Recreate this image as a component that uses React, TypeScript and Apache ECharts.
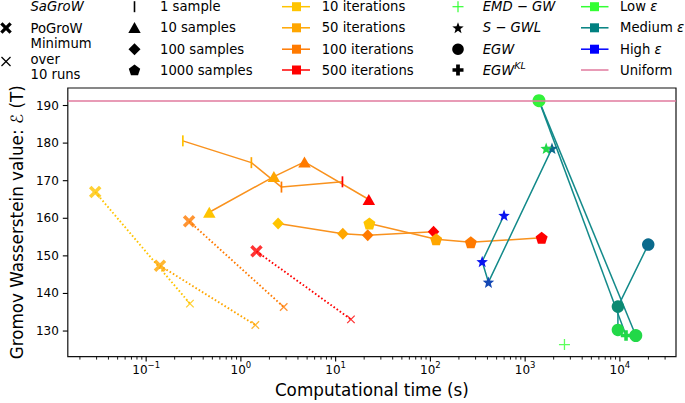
import React, { useEffect, useRef } from 'react';
import * as echarts from 'echarts';

// ---------- data ----------
const iterationLabels = ['10 iterations', '50 iterations', '100 iterations', '500 iterations'];
const sampleLabels = ['1 sample', '10 samples', '100 samples', '1000 samples'];

const sagrow1Time = [0.244, 1.29, 2.68, 11.8];
const sagrow1Value = [180.6, 174.8, 168.3, 169.7];
const sagrow10Time = [0.464, 2.23, 4.69, 22.4];
const sagrow10Value = [161.6, 171.1, 175.0, 165.0];
const sagrow100Time = [2.47, 11.9, 21.8, 108];
const sagrow100Value = [158.6, 155.9, 155.5, 156.4];
const sagrow1000Time = [22.7, 115, 267, 1493];
const sagrow1000Value = [158.6, 154.4, 153.6, 154.8];

const pogrowTime = [0.029, 0.14, 0.284, 1.46];
const pogrowValue = [167.0, 147.4, 159.2, 151.2];
const minRunsTime = [0.29, 1.42, 2.83, 14.5];
const minRunsValue = [137.3, 131.6, 136.4, 133.1];

const emdGwTime = [2600];
const emdGwValue = [126.4];

const sgwlTime = [599, 352, 410, 1920, 1667];
const sgwlValue = [160.8, 148.5, 143.0, 178.6, 178.6];
const sgwlEps = ['high', 'high', 'highMedium', 'mediumHigh', 'low'];

const egwRunATime = [1400, 14720];
const egwRunAValue = [191.3, 128.8];
const egwRunAEps = ['lowTop', 'low'];
const egwRunBTime = [19920, 9530, 9530];
const egwRunBValue = [153.0, 136.5, 130.3];
const egwRunBEps = ['mediumHigh', 'medium', 'low'];
const egwKlTime = [1400, 11610];
const egwKlValue = [191.3, 128.8];
const egwKlEps = ['lowTop', 'low'];

const uniformValue = 191.3;

const xMajorTicks = [0.1, 1, 10, 100, 1000, 10000];
const yTicks = [130, 140, 150, 160, 170, 180, 190];

// ---------- styles ----------
const FONT = 'DejaVu Sans';
const iterColors = ['#ffc400', '#ffa600', '#ff7a00', '#ff0000'];
const epsColors: Record<string, string> = {
  lowTop: '#33f23a',
  low: '#22d848',
  medium: '#0b8a72',
  mediumHigh: '#0b6a8c',
  highMedium: '#1448b4',
  high: '#0a14f0',
};
const sagrowLine = '#f9921e';
const entropicLine = '#138a8a';
const uniformColor = '#e07a9e';

const xMin = 0.0149;
const xMax = 39100;
const yMin = 123.2;
const yMax = 194.66;

// ---------- symbol shapes ----------
const toPath = (pts: number[][]) =>
  'path://M' + pts.map((p) => p[0].toFixed(3) + ',' + p[1].toFixed(3)).join('L') + 'Z';
const starPts: number[][] = [];
for (let i = 0; i < 10; i++) {
  const r = i % 2 === 0 ? 1 : 0.42;
  const a = -Math.PI / 2 + (i * Math.PI) / 5;
  starPts.push([r * Math.cos(a), r * Math.sin(a)]);
}
const pentPts: number[][] = [];
for (let i = 0; i < 5; i++) {
  const a = -Math.PI / 2 + (i * 2 * Math.PI) / 5;
  pentPts.push([Math.cos(a), Math.sin(a)]);
}
const boldXPts = [[0, 2], [2, 0], [5, 3], [8, 0], [10, 2], [7, 5], [10, 8], [8, 10], [5, 7], [2, 10], [0, 8], [3, 5]].map(
  (p) => [(p[0] - 5) / 5, (p[1] - 5) / 5]
);
const w = 0.34;
const boldPlusPts = [[-w, -1], [w, -1], [w, -w], [1, -w], [1, w], [w, w], [w, 1], [-w, 1], [-w, w], [-1, w], [-1, -w], [-w, -w]];
const triPts = [[0, -1], [1, 0.75], [-1, 0.75]];
const diaPts = [[0, -1], [1, 0], [0, 1], [-1, 0]];

const SYM_STAR = toPath(starPts);
const SYM_PENT = toPath(pentPts);
const SYM_BOLDX = toPath(boldXPts);
const SYM_BOLDPLUS = toPath(boldPlusPts);
const SYM_THINX = 'path://M0,0L10,10M10,0L0,10';
const SYM_THINPLUS = 'path://M5,0L5,10M0,5L10,5';

const scalePts = (pts: number[][], cx: number, cy: number, r: number) => pts.map((p) => [cx + p[0] * r, cy + p[1] * r]);

// ---------- legend graphics ----------
const rows = [6.7, 27.8, 49.2, 70];
const txt = (x: number, y: number, text: string, extra: any = {}) => ({
  type: 'text',
  x,
  y,
  style: {
    text,
    fill: '#000',
    fontFamily: FONT,
    fontSize: 13.2,
    align: 'left',
    verticalAlign: 'middle',
    ...extra,
  },
});

function buildLegend() {
  const g: any[] = [];
  // column 1
  g.push(txt(30.5, 6, 'SaGroW', { fontStyle: 'italic' }));
  g.push({ type: 'polygon', shape: { points: scalePts(boldXPts, 6, 28, 5.8) }, style: { fill: '#000' } });
  g.push(txt(30.5, 28, 'PoGroW'));
  g.push({ type: 'line', shape: { x1: 1.5, y1: 57, x2: 10.5, y2: 66 }, style: { stroke: '#000', lineWidth: 1.2 } });
  g.push({ type: 'line', shape: { x1: 10.5, y1: 57, x2: 1.5, y2: 66 }, style: { stroke: '#000', lineWidth: 1.2 } });
  g.push(txt(30.5, 59.3, 'Minimum\nover\n10 runs', { lineHeight: 15.4 }));
  // column 2
  const m2 = 134.5;
  g.push({ type: 'line', shape: { x1: m2, y1: rows[0] - 5.5, x2: m2, y2: rows[0] + 5.5 }, style: { stroke: '#000', lineWidth: 1.6 } });
  g.push({ type: 'polygon', shape: { points: scalePts(triPts, m2, rows[1] + 0.5, 6.2) }, style: { fill: '#000' } });
  g.push({ type: 'polygon', shape: { points: scalePts(diaPts, m2, rows[2], 6) }, style: { fill: '#000' } });
  g.push({ type: 'polygon', shape: { points: scalePts(pentPts, m2, rows[3] + 0.5, 6) }, style: { fill: '#000' } });
  sampleLabels.forEach((s, i) => g.push(txt(160, rows[i], s)));
  // column 3
  iterationLabels.forEach((s, i) => {
    g.push({ type: 'line', shape: { x1: 282, y1: rows[i], x2: 310, y2: rows[i] }, style: { stroke: iterColors[i], lineWidth: 1.5 } });
    g.push({ type: 'rect', shape: { x: 292, y: rows[i] - 4.5, width: 9, height: 9 }, style: { fill: iterColors[i] } });
    g.push(txt(321.7, rows[i], s));
  });
  // column 4
  const m4 = 458;
  g.push({ type: 'line', shape: { x1: m4 - 5.5, y1: rows[0], x2: m4 + 5.5, y2: rows[0] }, style: { stroke: '#33ff33', lineWidth: 1.2 } });
  g.push({ type: 'line', shape: { x1: m4, y1: rows[0] - 5.5, x2: m4, y2: rows[0] + 5.5 }, style: { stroke: '#33ff33', lineWidth: 1.2 } });
  g.push({ type: 'polygon', shape: { points: scalePts(starPts, m4, rows[1] + 0.5, 6) }, style: { fill: '#000' } });
  g.push({ type: 'circle', shape: { cx: m4, cy: rows[2], r: 5.8 }, style: { fill: '#000' } });
  g.push({ type: 'polygon', shape: { points: scalePts(boldPlusPts, m4, rows[3], 5.5) }, style: { fill: '#000' } });
  g.push(txt(482.7, rows[0], 'EMD \u2212 GW', { fontStyle: 'italic' }));
  g.push(txt(482.7, rows[1], 'S \u2212 GWL', { fontStyle: 'italic' }));
  g.push(txt(482.7, rows[2], 'EGW', { fontStyle: 'italic' }));
  g.push({
    type: 'text',
    x: 482.7,
    y: rows[3],
    style: {
      text: '{a|EGW}{b|KL}',
      align: 'left',
      verticalAlign: 'middle',
      rich: {
        a: { fontFamily: FONT, fontSize: 13.2, fontStyle: 'italic', fill: '#000', lineHeight: 20 },
        b: { fontFamily: FONT, fontSize: 9.5, fontStyle: 'italic', fill: '#000', verticalAlign: 'top' },
      },
    },
  });
  // column 5
  const epsLegend = [
    { label: 'Low', color: '#33ff33' },
    { label: 'Medium', color: '#008080' },
    { label: 'High', color: '#0000ff' },
  ];
  epsLegend.forEach((e, i) => {
    g.push({ type: 'line', shape: { x1: 581, y1: rows[i], x2: 608.5, y2: rows[i] }, style: { stroke: e.color, lineWidth: 1.5 } });
    g.push({ type: 'rect', shape: { x: 590, y: rows[i] - 4.5, width: 9, height: 9 }, style: { fill: e.color } });
    g.push({
      type: 'text',
      x: 620,
      y: rows[i],
      style: {
        text: '{a|' + e.label + ' }{b|\u03b5}',
        align: 'left',
        verticalAlign: 'middle',
        rich: {
          a: { fontFamily: FONT, fontSize: 13.2, fill: '#000' },
          b: { fontFamily: FONT, fontSize: 13.2, fontStyle: 'italic', fill: '#000' },
        },
      },
    });
  });
  g.push({ type: 'line', shape: { x1: 581, y1: rows[3], x2: 608.5, y2: rows[3] }, style: { stroke: uniformColor, lineWidth: 1.5 } });
  g.push(txt(620, rows[3], 'Uniform'));
  return g;
}

// ---------- series builders ----------
const sagrowSeries = (name: string, times: number[], values: number[], symbol: string, size: any, extra: any = {}) => ({
  name,
  type: 'line',
  data: times.map((t, i) => ({ value: [t, values[i]], itemStyle: { color: iterColors[i] } })),
  symbol,
  symbolSize: size,
  showSymbol: true,
  lineStyle: { color: sagrowLine, width: 1.5 },
  z: 3,
  ...extra,
});

const entropicSeries = (name: string, times: number[], values: number[], eps: string[], symbol: string, size: number) => ({
  name,
  type: 'line',
  data: times.map((t, i) => ({ value: [t, values[i]], itemStyle: { color: epsColors[eps[i]] } })),
  symbol,
  symbolSize: size,
  lineStyle: { color: entropicLine, width: 1.5 },
  z: 4,
});

export default function App() {
  const ref = useRef<HTMLDivElement>(null);
  useEffect(() => {
    document.body.style.margin = '0';
    if (!ref.current) return;
    const chart = echarts.init(ref.current, undefined, { renderer: 'svg' });

    const xTickData: number[][] = xMajorTicks.map((v) => [v, yMin, 5, 1.1]);
    for (let e = -2; e <= 4; e++) {
      for (let k = 2; k <= 9; k++) {
        const v = k * Math.pow(10, e);
        if (v > xMin && v < xMax) xTickData.push([v, yMin, 3, 0.9]);
      }
    }
    const yTickData = yTicks.map((v) => [xMin, v, 5, 1.1]);

    const series: any[] = [
      // PoGroW -> minimum over 10 runs (dotted)
      ...pogrowTime.map((t, i) => ({
        type: 'line',
        data: [
          [t, pogrowValue[i]],
          [minRunsTime[i], minRunsValue[i]],
        ],
        showSymbol: false,
        symbol: 'none',
        lineStyle: { color: iterColors[i], width: 1.9, type: [1.6, 2.2] },
        z: 2,
      })),
      sagrowSeries('1 sample', sagrow1Time, sagrow1Value, 'rect', [1.7, 11], {
        markLine: {
          silent: true,
          symbol: 'none',
          label: { show: false },
          lineStyle: { color: uniformColor, width: 1.5, type: 'solid' },
          data: [{ yAxis: uniformValue }],
        },
      }),
      sagrowSeries('10 samples', sagrow10Time, sagrow10Value, 'triangle', [12.5, 11]),
      sagrowSeries('100 samples', sagrow100Time, sagrow100Value, 'diamond', [11.5, 12]),
      sagrowSeries('1000 samples', sagrow1000Time, sagrow1000Value, SYM_PENT, 12),
      {
        name: 'PoGroW',
        type: 'scatter',
        data: pogrowTime.map((t, i) => ({ value: [t, pogrowValue[i]], itemStyle: { color: iterColors[i] } })),
        symbol: SYM_BOLDX,
        symbolSize: 12.5,
        z: 5,
      },
      {
        name: 'Minimum over 10 runs',
        type: 'scatter',
        data: minRunsTime.map((t, i) => ({
          value: [t, minRunsValue[i]],
          itemStyle: { color: 'transparent', borderColor: iterColors[i], borderWidth: 1.3 },
        })),
        symbol: SYM_THINX,
        symbolSize: 7.5,
        z: 5,
      },
      {
        name: 'EMD-GW',
        type: 'scatter',
        data: emdGwTime.map((t, i) => ({
          value: [t, emdGwValue[i]],
          itemStyle: { color: 'transparent', borderColor: '#33ff33', borderWidth: 1.3 },
        })),
        symbol: SYM_THINPLUS,
        symbolSize: 11,
        z: 5,
      },
      entropicSeries('S-GWL', sgwlTime, sgwlValue, sgwlEps, SYM_STAR, 11.5),
      entropicSeries('EGW-KL', egwKlTime, egwKlValue, egwKlEps, SYM_BOLDPLUS, 10.5),
      entropicSeries('EGW', egwRunATime, egwRunAValue, egwRunAEps, 'circle', 13),
      entropicSeries('EGW-b', egwRunBTime, egwRunBValue, egwRunBEps, 'circle', 12.5),
      {
        type: 'custom',
        silent: true,
        clip: false,
        data: xTickData,
        encode: { x: 0, y: 1 },
        renderItem: (params: any, api: any) => {
          const p = api.coord([api.value(0), api.value(1)]);
          const len = api.value(2);
          return {
            type: 'line',
            shape: { x1: p[0], y1: p[1], x2: p[0], y2: p[1] + len },
            style: { stroke: '#000', lineWidth: api.value(3) },
          };
        },
        z: 10,
      },
      {
        type: 'custom',
        silent: true,
        clip: false,
        data: yTickData,
        encode: { x: 0, y: 1 },
        renderItem: (params: any, api: any) => {
          const p = api.coord([api.value(0), api.value(1)]);
          const len = api.value(2);
          return {
            type: 'line',
            shape: { x1: p[0], y1: p[1], x2: p[0] - len, y2: p[1] },
            style: { stroke: '#000', lineWidth: api.value(3) },
          };
        },
        z: 10,
      },
    ];

    chart.setOption({
      animation: false,
      backgroundColor: '#fff',
      grid: { left: 54.5, right: 9, top: 88, bottom: 40, show: true, borderColor: '#111', borderWidth: 1.2, backgroundColor: 'transparent' },
      xAxis: {
        type: 'log',
        logBase: 10,
        min: xMin,
        max: xMax,
        axisLine: { show: false },
        axisTick: { show: false },
        splitLine: { show: false },
        minorTick: { show: false },
        axisLabel: {
          showMinLabel: false,
          showMaxLabel: false,
          margin: 4,
          formatter: (v: number) => {
            const e = Math.round(Math.log10(v));
            return '{b|10}{s|' + (e < 0 ? '\u2212' + -e : String(e)) + '}';
          },
          rich: {
            b: { fontSize: 12, fontFamily: FONT, color: '#000', lineHeight: 19 },
            s: { fontSize: 8.5, fontFamily: FONT, color: '#000', verticalAlign: 'top' },
          },
        },
        name: 'Computational time (s)',
        nameLocation: 'middle',
        nameGap: 24,
        nameTextStyle: { fontSize: 16.8, fontFamily: FONT, color: '#000' },
      },
      yAxis: {
        type: 'value',
        min: yMin,
        max: yMax,
        minInterval: 10,
        maxInterval: 10,
        axisLine: { show: false },
        axisTick: { show: false },
        splitLine: { show: false },
        axisLabel: { showMinLabel: false, showMaxLabel: false, margin: 9, fontSize: 12, fontFamily: FONT, color: '#000' },
        name: 'Gromov Wasserstein value: \u2130 (T)',
        nameLocation: 'middle',
        nameGap: 35,
        nameRotate: 90,
        nameTextStyle: { fontSize: 16.8, fontFamily: FONT, color: '#000' },
      },
      graphic: buildLegend(),
      series,
    });
    return () => chart.dispose();
  }, []);
  return <div ref={ref} style={{ width: 685, height: 403 }} />;
}
